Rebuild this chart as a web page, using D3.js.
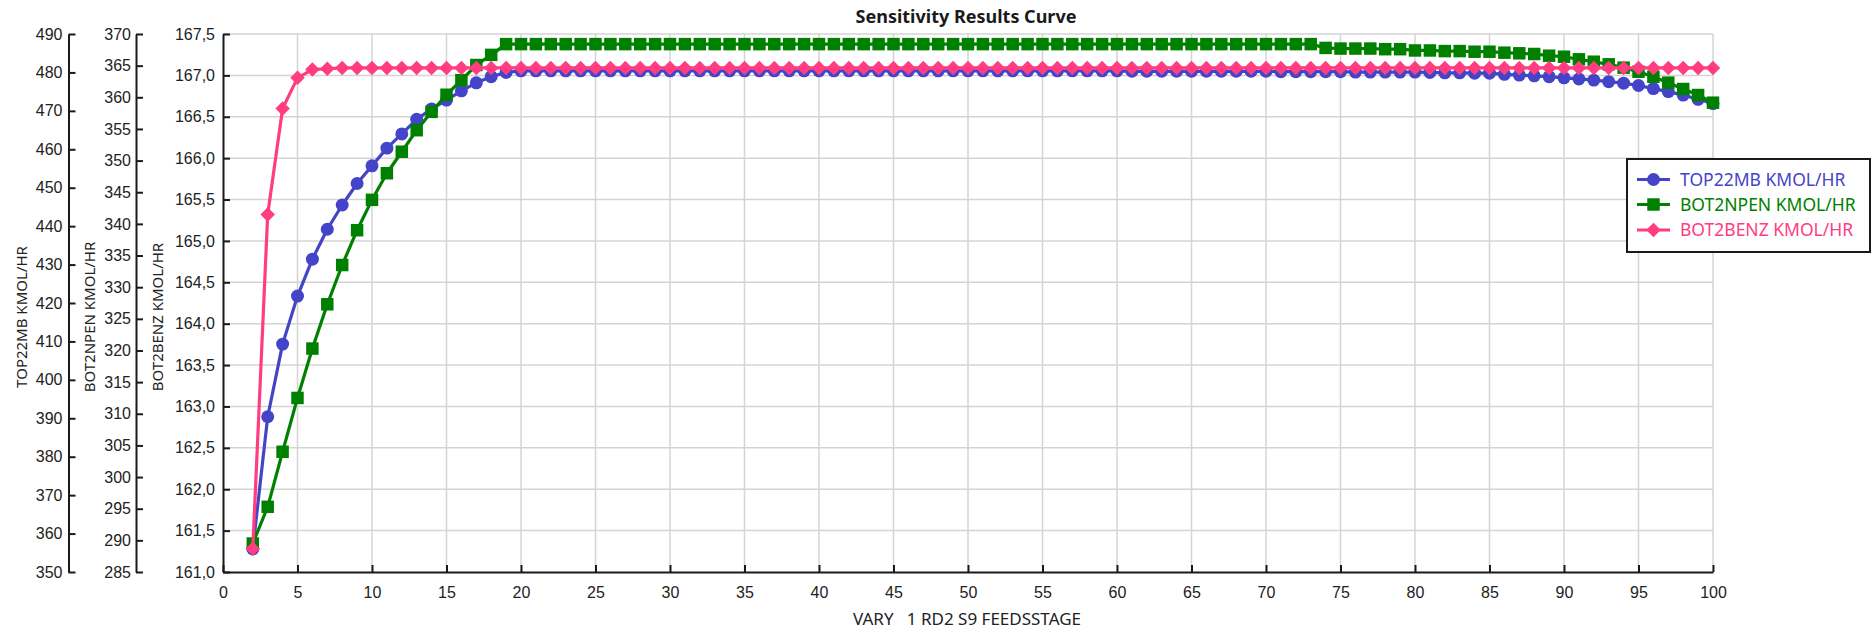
<!DOCTYPE html>
<html>
<head>
<meta charset="utf-8">
<script src="https://cdn.jsdelivr.net/npm/d3@7"></script>
<style>
  html, body { margin: 0; padding: 0; background: #fff; }
  svg { display: block; font-family: "Noto Sans", "Open Sans", sans-serif; }
</style>
</head>
<body>
<svg id="chart" width="1872" height="631"></svg>
<script>
// Feed stage of the RD2 column (varied) and the three sampled flows
const stages = [2,3,4,5,6,7,8,9,10,11,12,13,14,15,16,17,18,19,20,21,22,23,24,25,26,27,28,29,30,
  31,32,33,34,35,36,37,38,39,40,41,42,43,44,45,46,47,48,49,50,51,52,53,54,55,56,57,58,59,60,
  61,62,63,64,65,66,67,68,69,70,71,72,73,74,75,76,77,78,79,80,81,82,83,84,85,86,87,88,89,90,
  91,92,93,94,95,96,97,98,99,100];

const top22mb = [356.0,390.4,409.3,421.8,431.4,439.2,445.5,451.1,455.7,460.3,464.0,467.8,470.5,472.8,475.2,477.3,478.9,480.0,480.4,
  480.4,480.4,480.4,480.4,480.4,480.4,480.4,480.4,480.4,480.4,480.4,480.4,480.4,480.4,480.4,480.4,480.4,480.4,480.4,480.4,
  480.4,480.4,480.4,480.4,480.4,480.4,480.4,480.4,480.4,480.4,480.4,480.4,480.4,480.4,480.4,480.4,480.4,480.4,480.4,480.4,
  480.3,480.3,480.3,480.3,480.3,480.3,480.3,480.3,480.3,480.3,
  480.2,480.2,480.2,480.2,480.2,480.1,480.1,480.1,480.1,480.1,
  480.0,479.9,479.9,479.8,479.8,479.5,479.3,479.1,478.9,478.6,478.3,478.0,477.6,477.2,476.6,475.8,475.0,474.1,473.0,471.9];

const bot2npen = [289.5,295.3,304.0,312.5,320.3,327.3,333.5,339.0,343.8,348.0,351.4,354.8,357.7,360.4,362.7,365.1,366.7,368.4,
  368.4,368.4,368.4,368.4,368.4,368.4,368.4,368.4,368.4,368.4,368.4,368.4,368.4,368.4,368.4,368.4,368.4,368.4,368.4,368.4,
  368.4,368.4,368.4,368.4,368.4,368.4,368.4,368.4,368.4,368.4,368.4,368.4,368.4,368.4,368.4,368.4,368.4,368.4,368.4,368.4,
  368.4,368.4,368.4,368.4,368.4,368.4,368.4,368.4,368.4,368.4,368.4,368.4,368.4,368.4,
  367.8,367.7,367.7,367.7,367.6,367.6,367.4,367.4,367.3,367.3,367.2,367.2,
  367.05,366.95,366.84,366.57,366.41,366.0,365.62,365.21,364.68,364.04,363.25,362.31,361.31,360.36,359.15];

const bot2benz = [161.28,165.32,166.6,166.97,167.07,167.08,167.09,167.09,167.09,167.09,167.09,167.09,167.09,167.09,167.09,
  167.09,167.09,167.09,167.09,167.09,167.09,167.09,167.09,167.09,167.09,167.09,167.09,167.09,167.09,167.09,167.09,167.09,
  167.09,167.09,167.09,167.09,167.09,167.09,167.09,167.09,167.09,167.09,167.09,167.09,167.09,167.09,167.09,167.09,167.09,
  167.09,167.09,167.09,167.09,167.09,167.09,167.09,167.09,167.09,167.09,167.09,167.09,167.09,167.09,167.09,167.09,167.09,
  167.09,167.09,167.09,167.09,167.09,167.09,167.09,167.09,167.09,167.09,167.09,167.09,167.09,167.09,167.09,167.09,167.09,
  167.09,167.09,167.09,167.09,167.09,167.09,167.09,167.09,167.09,167.09,167.09,167.09,167.09,167.09,167.09,167.09];

// Tick values for each axis
const stageTicks = [0,5,10,15,20,25,30,35,40,45,50,55,60,65,70,75,80,85,90,95,100];
const top22mbTicks = [350,360,370,380,390,400,410,420,430,440,450,460,470,480,490];
const bot2npenTicks = [285,290,295,300,305,310,315,320,325,330,335,340,345,350,355,360,365,370];
const bot2benzTicks = [161,161.5,162,162.5,163,163.5,164,164.5,165,165.5,166,166.5,167,167.5];

const seriesNames = ["TOP22MB KMOL/HR", "BOT2NPEN KMOL/HR", "BOT2BENZ KMOL/HR"];
const titleText = "Sensitivity Results Curve";
const xTitle = "VARY   1 RD2 S9 FEEDSSTAGE";

const colors = { top: "#4444C8", npen: "#008000", benz: "#FF3D80" };

const svg = d3.select("#chart");

// Plot frame
const plotLeft = 223, plotRight = 1713, plotTop = 34, plotBottom = 572;

const x = d3.scaleLinear().domain([0, 100]).range([plotLeft, plotRight]);
const yTop = d3.scaleLinear().domain([350, 490]).range([plotBottom, plotTop]);
const yNpen = d3.scaleLinear().domain([285, 370]).range([plotBottom, plotTop]);
const yBenz = d3.scaleLinear().domain([161, 167.5]).range([plotBottom, plotTop]);

const commaFmt = d3.formatLocale({ decimal: ",", thousands: ".", grouping: [3], currency: ["", ""] }).format(".1f");

// Grid
const grid = svg.append("g").attr("stroke", "#d4d4d4").attr("stroke-width", 1.5);
grid.selectAll("line.h").data(bot2benzTicks.slice(1)).join("line")
  .attr("x1", plotLeft).attr("x2", plotRight)
  .attr("y1", d => yBenz(d)).attr("y2", d => yBenz(d));
grid.selectAll("line.v").data(stageTicks.slice(1)).join("line")
  .attr("y1", plotTop).attr("y2", plotBottom)
  .attr("x1", d => x(d)).attr("x2", d => x(d));

function styleAxis(g, size) {
  g.selectAll(".domain").attr("stroke", "#1a1a1a").attr("stroke-width", 2);
  g.selectAll(".tick line").attr("stroke", "#1a1a1a").attr("stroke-width", 2);
  g.selectAll(".tick text").attr("fill", "#222").style("font-size", size + "px");
}

// Bottom axis (ticks point into the plot)
const gx = svg.append("g").attr("transform", `translate(0,${plotBottom})`)
  .call(d3.axisBottom(x).tickValues(stageTicks).tickSizeInner(-7).tickSizeOuter(0).tickPadding(15));
styleAxis(gx, 16);

// Left axes
const gBenz = svg.append("g").attr("transform", `translate(${plotLeft},0)`)
  .call(d3.axisLeft(yBenz).tickValues(bot2benzTicks).tickFormat(commaFmt).tickSizeInner(-7).tickSizeOuter(0).tickPadding(8));
styleAxis(gBenz, 16);

const gNpen = svg.append("g").attr("transform", `translate(136,0)`)
  .call(d3.axisLeft(yNpen).tickValues(bot2npenTicks).tickSizeInner(-7).tickSizeOuter(0).tickPadding(5));
styleAxis(gNpen, 16);

const gTop = svg.append("g").attr("transform", `translate(68.5,0)`)
  .call(d3.axisLeft(yTop).tickValues(top22mbTicks).tickSizeInner(-7).tickSizeOuter(0).tickPadding(6));
styleAxis(gTop, 16);

// Axis titles
const axisTitleY = 317;
[[22, seriesNames[0]], [90, seriesNames[1]], [157.5, seriesNames[2]]].forEach(([cx, t]) => {
  svg.append("text")
    .attr("transform", `translate(${cx},${axisTitleY}) rotate(-90)`)
    .attr("text-anchor", "middle").attr("dy", "0.35em")
    .style("font-size", "15px").attr("fill", "#222")
    .text(t);
});

svg.append("text").attr("x", 967).attr("y", 625).attr("text-anchor", "middle")
  .style("font-size", "17px").style("white-space", "pre").attr("fill", "#222")
  .text(xTitle);

svg.append("text").attr("x", 966).attr("y", 23).attr("text-anchor", "middle")
  .style("font-size", "18px").style("font-weight", "bold").attr("fill", "#1a1a1a")
  .text(titleText);

// Series: circles, squares and 45°-turned squares as markers
const series = [
  { name: seriesNames[0], values: top22mb, y: yTop, color: colors.top, shape: d3.symbolCircle, size: 132, rot: 0 },
  { name: seriesNames[1], values: bot2npen, y: yNpen, color: colors.npen, shape: d3.symbolSquare, size: 156, rot: 0 },
  { name: seriesNames[2], values: bot2benz, y: yBenz, color: colors.benz, shape: d3.symbolSquare, size: 105, rot: 45 }
];

series.forEach(s => {
  const pts = stages.map((st, i) => [x(st), s.y(s.values[i])]);
  const g = svg.append("g");
  g.append("path").attr("d", d3.line()(pts))
    .attr("fill", "none").attr("stroke", s.color).attr("stroke-width", 3.2)
    .attr("stroke-linejoin", "round");
  g.selectAll("path.m").data(pts).join("path")
    .attr("d", d3.symbol().type(s.shape).size(s.size))
    .attr("transform", d => `translate(${d[0]},${d[1]}) rotate(${s.rot})`)
    .attr("fill", s.color);
});

// Legend
const legend = svg.append("g");
legend.append("rect").attr("x", 1627).attr("y", 159).attr("width", 243).attr("height", 93)
  .attr("fill", "#fff").attr("stroke", "#1a1a1a").attr("stroke-width", 2);
const rowY = [179.5, 204.5, 230];
series.forEach((s, i) => {
  const r = legend.append("g").attr("transform", `translate(0,${rowY[i]})`);
  r.append("line").attr("x1", 1637).attr("x2", 1670).attr("stroke", s.color).attr("stroke-width", 3.2);
  r.append("path").attr("d", d3.symbol().type(s.shape).size(s.size))
    .attr("transform", `translate(1653.5,0) rotate(${s.rot})`).attr("fill", s.color);
  r.append("text").attr("x", 1680).attr("dy", "0.35em")
    .style("font-size", "17.5px").attr("fill", s.color).text(s.name);
});
</script>
</body>
</html>
